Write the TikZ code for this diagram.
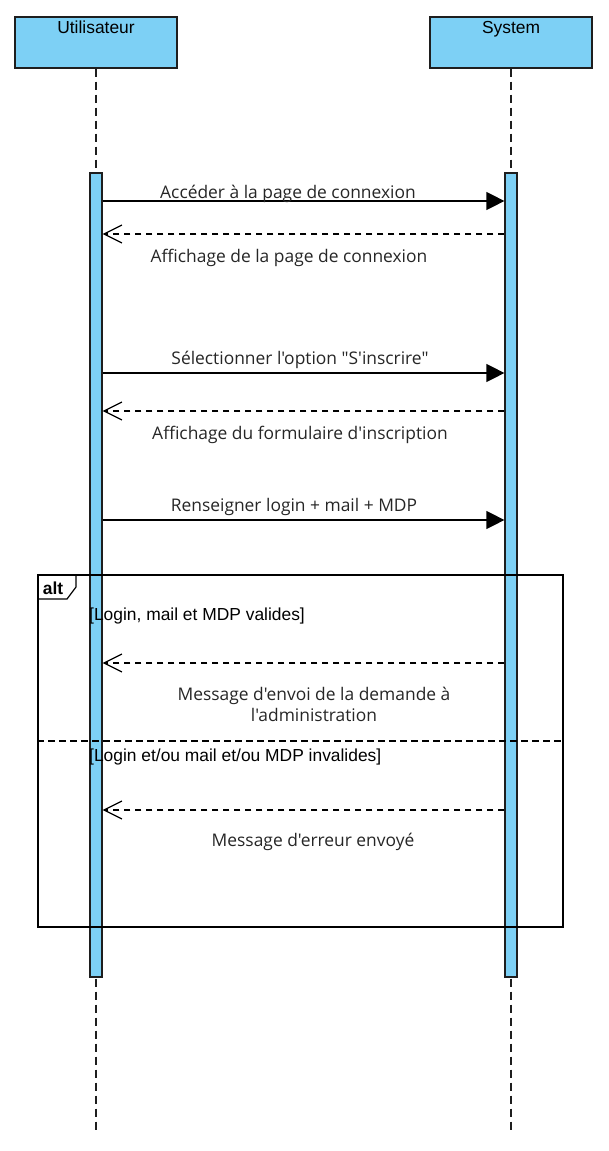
\documentclass[tikz,border=0pt]{standalone}
\usepackage{fontspec}
\setmainfont{Liberation Sans}
\newfontfamily\msgfont{Open Sans}
\usetikzlibrary{arrows.meta}
\definecolor{actfill}{RGB}{125,208,245}
\definecolor{edge}{RGB}{30,30,30}
\tikzset{
  actor/.style={draw=edge, fill=actfill, line width=1.2pt, minimum width=162pt, minimum height=51pt, inner sep=0pt},
  actlabel/.style={font=\fontsize{17.4}{19}\selectfont, inner sep=0pt, anchor=north},
  lifeline/.style={draw=edge, line width=1.2pt, dash pattern=on 8pt off 5pt},
  bar/.style={draw=edge, fill=actfill, line width=1.2pt, minimum width=12pt, minimum height=804pt, inner sep=0pt},
  call/.style={draw=black, line width=1.2pt, -{Triangle[length=18pt,width=18pt]}},
  reply/.style={draw=black, line width=1.2pt, dash pattern=on 6pt off 5pt, -{Straight Barb[length=18pt,width=18pt]}},
  msglabel/.style={font=\msgfont\fontsize{17.4}{21}\selectfont, inner sep=0pt, text=black!85, align=center},
  frame/.style={draw=black, line width=1.2pt},
  guard/.style={font=\fontsize{17.4}{19}\selectfont, inner sep=0pt, anchor=west},
}
\begin{document}
\begin{tikzpicture}[x=1pt,y=-1pt]
\useasboundingbox (0,0) rectangle (609,1151);
% actors
\node[actor] (u) at (96,42.5) {};
\node[actlabel] (ul) at (96,21) {Utilisateur};
\node[actor] (s) at (511,42.5) {};
\node[actlabel] (sl) at (511,21) {System};
% lifelines
\coordinate (uend) at (96,1133);
\coordinate (send) at (511,1133);
\draw[lifeline] (u.south) -- (uend);
\draw[lifeline] (s.south) -- (send);
% activation bars
\node[bar] (ua) at (96,575) {};
\node[bar] (sa) at (511,575) {};
% messages
\draw[call] (ua.east |- 0,201) -- (sa.west |- 0,201);
\node[msglabel] (m1) at (288,194) {Accéder à la page de connexion};
\draw[reply] (sa.west |- 0,234) -- (ua.east |- 0,234);
\node[msglabel] (m2) at (289,258) {Affichage de la page de connexion};
\draw[call] (ua.east |- 0,373) -- (sa.west |- 0,373);
\node[msglabel] (m3) at (300,360) {Sélectionner l'option "S'inscrire"};
\draw[reply] (sa.west |- 0,411) -- (ua.east |- 0,411);
\node[msglabel] (m4) at (300,435) {Affichage du formulaire d'inscription};
\draw[call] (ua.east |- 0,520) -- (sa.west |- 0,520);
\node[msglabel] (m5) at (294,507) {Renseigner login + mail + MDP};
% alt frame
\node[frame, minimum width=525pt, minimum height=352pt, inner sep=0pt] (alt) at (300.5,751) {};
\draw[frame] (38,599) -- (67,599) -- (76,587) -- (76,575);
\node[font=\bfseries\fontsize{17.4}{19}\selectfont, inner sep=0pt] (altl) at (53,588) {alt};
\node[guard] (g1) at (89,616) {[Login, mail et MDP valides]};
\draw[reply] (sa.west |- 0,663) -- (ua.east |- 0,663);
\node[msglabel] (m6) at (314,704.5) {Message d'envoi de la demande à\\l'administration};
\draw[frame, dash pattern=on 7pt off 4pt] (alt.west |- 0,741) -- (alt.east |- 0,741);
\node[guard] (g2) at (89,757) {[Login et/ou mail et/ou MDP invalides]};
\draw[reply] (sa.west |- 0,810) -- (ua.east |- 0,810);
\node[msglabel] (m7) at (313,842) {Message d'erreur envoyé};
\end{tikzpicture}
\end{document}
